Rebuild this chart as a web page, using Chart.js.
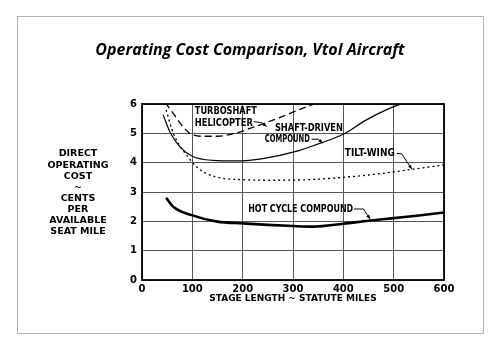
<!DOCTYPE html>
<html>
<head>
<meta charset="utf-8">
<title>Operating Cost Comparison, Vtol Aircraft</title>
<script src="https://cdn.jsdelivr.net/npm/chart.js@4.4.1/dist/chart.umd.min.js"></script>
<style>
  html, body { margin: 0; padding: 0; background: #fff; }
  #wrap { width: 500px; height: 350px; }
</style>
</head>
<body>
<div id="wrap"><canvas id="costChart" width="500" height="350"></canvas></div>
<script>
// Stage length (statute miles) and direct operating cost (cents per available seat mile)
const heliMiles = [46, 62, 79, 95, 121, 150, 188, 220, 260, 300, 320, 350];
const heliCost = [6.05, 5.68, 5.28, 5.0, 4.9, 4.9, 5.02, 5.2, 5.45, 5.72, 5.86, 6.05];

const shaftMiles = [42, 56, 75, 100, 140, 190, 240, 310, 350, 400, 445, 485, 522];
const shaftCost = [5.63, 5.03, 4.55, 4.22, 4.08, 4.06, 4.14, 4.4, 4.64, 4.97, 5.45, 5.8, 6.05];

const tiltMiles = [48, 59, 72, 89, 108, 128, 160, 200, 250, 313, 400, 470, 535, 600];
const tiltCost = [5.8, 5.15, 4.66, 4.25, 3.86, 3.63, 3.47, 3.42, 3.4, 3.41, 3.5, 3.62, 3.77, 3.92];

const hotMiles = [48, 62, 97, 150, 200, 250, 300, 340, 400, 450, 500, 550, 600];
const hotCost = [2.8, 2.5, 2.22, 1.99, 1.93, 1.88, 1.84, 1.82, 1.92, 2.02, 2.11, 2.2, 2.3];

const chartTitle = 'Operating Cost Comparison, Vtol Aircraft';
const yTitleLines = ['DIRECT', 'OPERATING', 'COST', '~', 'CENTS', 'PER', 'AVAILABLE', 'SEAT MILE'];

// curve labels, in data units: text lines and a leader arrow ending on the curve
const callouts = [
  { lines: [['TURBOSHAFT', 105, 5.76, 62], ['HELICOPTER', 105, 5.35, 58]],
    arrow: [[222, 5.40], [238, 5.36], [248, 5.23]] },
  { lines: [['SHAFT-DRIVEN', 264, 5.17, 68], ['COMPOUND', 244, 4.80, 45]],
    arrow: [[337, 4.80], [350, 4.80], [359, 4.67]] },
  { lines: [['TILT-WING', 403, 4.31, 50]],
    arrow: [[506, 4.32], [516, 4.30], [536, 3.78]] },
  { lines: [['HOT CYCLE COMPOUND', 211, 2.40, 105]],
    arrow: [[421, 2.42], [440, 2.42], [453, 2.08]] },
];

const labelFont = 'bold 10px "DejaVu Sans", sans-serif';

function toPoints(xs, ys) {
  return xs.map((x, i) => ({ x: x, y: ys[i] }));
}

// page frame, title, plot frame, vertical axis caption and curve callouts
const decorations = {
  id: 'decorations',
  beforeDraw(chart) {
    const ctx = chart.ctx;
    ctx.save();
    ctx.fillStyle = '#fff';
    ctx.fillRect(0, 0, chart.width, chart.height);
    ctx.strokeStyle = '#b4b4b4';
    ctx.lineWidth = 1;
    ctx.strokeRect(17.5, 16.5, 466, 317);
    ctx.fillStyle = '#000';
    ctx.font = 'italic bold 16px "Open Sans", sans-serif';
    ctx.textAlign = 'center';
    ctx.textBaseline = 'middle';
    ctx.fillText(chartTitle, 250, 50);
    ctx.restore();
  },
  afterDraw(chart) {
    const ctx = chart.ctx;
    const area = chart.chartArea;
    const xs = chart.scales.x;
    const ys = chart.scales.y;
    ctx.save();
    ctx.strokeStyle = '#000';
    ctx.lineWidth = 1.8;
    ctx.strokeRect(area.left, area.top, area.right - area.left, area.bottom - area.top);

    ctx.fillStyle = '#000';
    ctx.font = 'bold 9.5px "DejaVu Sans", sans-serif';
    ctx.textAlign = 'center';
    ctx.textBaseline = 'middle';
    yTitleLines.forEach((t, i) => {
      ctx.fillText(t, 78, 154 + i * 11.1);
    });

    ctx.font = labelFont;
    ctx.textAlign = 'left';
    ctx.lineWidth = 1;
    callouts.forEach(c => {
      c.lines.forEach(([t, mx, v, w]) => {
        ctx.fillText(t, xs.getPixelForValue(mx), ys.getPixelForValue(v), w);
      });
      const pts = c.arrow.map(([mx, v]) => [xs.getPixelForValue(mx), ys.getPixelForValue(v)]);
      ctx.beginPath();
      ctx.moveTo(pts[0][0], pts[0][1]);
      for (let i = 1; i < pts.length; i++) ctx.lineTo(pts[i][0], pts[i][1]);
      ctx.stroke();
      const [tx, ty] = pts[pts.length - 1];
      const [px, py] = pts[pts.length - 2];
      const ang = Math.atan2(ty - py, tx - px);
      ctx.beginPath();
      ctx.moveTo(tx, ty);
      ctx.lineTo(tx - 4.5 * Math.cos(ang - 0.4), ty - 4.5 * Math.sin(ang - 0.4));
      ctx.lineTo(tx - 4.5 * Math.cos(ang + 0.4), ty - 4.5 * Math.sin(ang + 0.4));
      ctx.closePath();
      ctx.fill();
    });
    ctx.restore();
  },
};

const lineBase = {
  borderColor: '#000',
  pointRadius: 0,
  fill: false,
  cubicInterpolationMode: 'monotone',
  clip: 0,
};

new Chart(document.getElementById('costChart'), {
  type: 'line',
  data: {
    datasets: [
      Object.assign({ label: 'Turboshaft Helicopter', data: toPoints(heliMiles, heliCost),
        borderWidth: 1.3, borderDash: [7, 4] }, lineBase),
      Object.assign({ label: 'Shaft-Driven Compound', data: toPoints(shaftMiles, shaftCost),
        borderWidth: 1.2 }, lineBase),
      Object.assign({ label: 'Tilt-Wing', data: toPoints(tiltMiles, tiltCost),
        borderWidth: 1.3, borderDash: [2, 3] }, lineBase),
      Object.assign({ label: 'Hot Cycle Compound', data: toPoints(hotMiles, hotCost),
        borderWidth: 2.6 }, lineBase),
    ],
  },
  options: {
    responsive: false,
    animation: false,
    layout: { padding: { left: 0, right: 56, top: 104, bottom: 46 } },
    plugins: {
      legend: { display: false },
      tooltip: { enabled: false },
      title: { display: false },
    },
    scales: {
      x: {
        type: 'linear',
        min: 0,
        max: 600,
        afterFit: s => { s.height = 24; },
        border: { display: false },
        grid: { color: '#555', lineWidth: 1, drawTicks: false },
        ticks: { stepSize: 100, padding: 3, color: '#000', font: { family: 'DejaVu Sans', size: 10, weight: 'bold' } },
        title: {
          display: true,
          text: 'STAGE LENGTH ~ STATUTE MILES',
          color: '#000',
          padding: 0,
          font: { family: 'DejaVu Sans', size: 9, weight: 'bold' },
        },
      },
      y: {
        min: 0,
        max: 6,
        afterFit: s => { s.width = 142; },
        border: { display: false },
        grid: { color: '#555', lineWidth: 1, drawTicks: false },
        ticks: { stepSize: 1, padding: 5, color: '#000', font: { family: 'DejaVu Sans', size: 10, weight: 'bold' } },
      },
    },
  },
  plugins: [decorations],
});
</script>
</body>
</html>
